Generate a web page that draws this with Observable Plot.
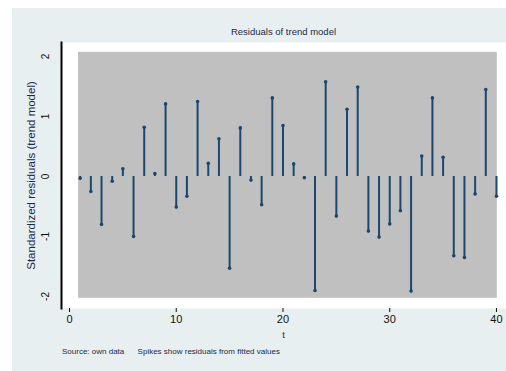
<!DOCTYPE html>
<html>
<head>
<meta charset="utf-8">
<script src="https://cdn.jsdelivr.net/npm/d3@7"></script>
<script src="https://cdn.jsdelivr.net/npm/@observablehq/plot@0.6"></script>
<style>
  html, body { margin: 0; padding: 0; background: #ffffff; width: 506px; height: 371px; overflow: hidden; }
  #bg { position: absolute; left: 12px; top: 8px; right: 0; bottom: 0; background: #e7eff1; }
  #chart { position: absolute; left: 0; top: 0; }
  .txt { position: absolute; font-family: "Liberation Sans", Arial, sans-serif; color: #1b2a48; white-space: nowrap; }
  #title { top: 26px; left: 61px; width: 445px; text-align: center; font-size: 9.5px; }
  #xlab { top: 329px; left: 61px; width: 445px; text-align: center; font-size: 9.5px; }
  #note { top: 347px; left: 62px; font-size: 8px; }
</style>
</head>
<body>
<div id="bg"></div>
<div id="chart"></div>
<div id="title" class="txt">Residuals of trend model</div>
<div id="xlab" class="txt">t</div>
<div id="note" class="txt">Source: own data &nbsp;&nbsp;&nbsp;&nbsp; Spikes show residuals from fitted values</div>
<script>
const t = [1,2,3,4,5,6,7,8,9,10,11,12,13,14,15,16,17,18,19,20,21,22,23,24,25,26,27,28,29,30,31,32,33,34,35,36,37,38,39,40];
const resid = [-0.03,-0.25,-0.80,-0.08,0.13,-1.00,0.82,0.05,1.21,-0.51,-0.33,1.25,0.22,0.63,-1.53,0.81,-0.06,-0.47,1.31,0.85,0.21,-0.02,-1.90,1.58,-0.66,1.12,1.49,-0.91,-1.01,-0.79,-0.57,-1.91,0.34,1.31,0.32,-1.32,-1.35,-0.29,1.45,-0.33];
const xTicks = [0, 10, 20, 30, 40];
const yTicks = [-2, -1, 0, 1, 2];
const yTitle = "Standardized residuals (trend model)";
const shadeX = [0.85, 40.08];
const shadeY = [-2.03, 2.07];

const rows = t.map((x, i) => ({t: x, r: resid[i]}));
const shade = [{x1: shadeX[0], x2: shadeX[1], y1: shadeY[0], y2: shadeY[1]}];

const navy = "#1a476f";
const chart = Plot.plot({
  width: 506,
  height: 371,
  marginLeft: 61,
  marginRight: 0,
  marginTop: 42,
  marginBottom: 63,
  style: {background: "transparent", fontFamily: "Liberation Sans, Arial, sans-serif", fontSize: "11px", color: "#111"},
  x: {domain: [-0.75, 40.94]},
  y: {domain: [-2.2, 2.233], axis: null},
  marks: [
    Plot.frame({fill: "white", stroke: null}),
    Plot.rect(shade, {x1: "x1", x2: "x2", y1: "y1", y2: "y2", fill: "#c0c0c0"}),
    Plot.ruleX(rows, {x: "t", y1: 0, y2: "r", stroke: navy, strokeWidth: 2}),
    Plot.dot(rows, {x: "t", y: "r", r: 1.8, fill: navy, stroke: null}),
    Plot.frame({anchor: "left", stroke: "#000", strokeWidth: 2}),
    Plot.axisX({ticks: xTicks, tickSize: 4, tickPadding: 3, label: null, fontSize: 11}),
    Plot.text(yTicks, {y: d => d, text: d => String(d), frameAnchor: "left", textAnchor: "middle", dx: -16, rotate: -90, fontSize: 10, fill: "#111"}),
    Plot.text([yTitle], {text: d => d, frameAnchor: "left", textAnchor: "middle", dx: -30, rotate: -90, fontSize: 11.5, fill: "#1b2a48"})
  ]
});
document.getElementById("chart").appendChild(chart);
</script>
</body>
</html>
